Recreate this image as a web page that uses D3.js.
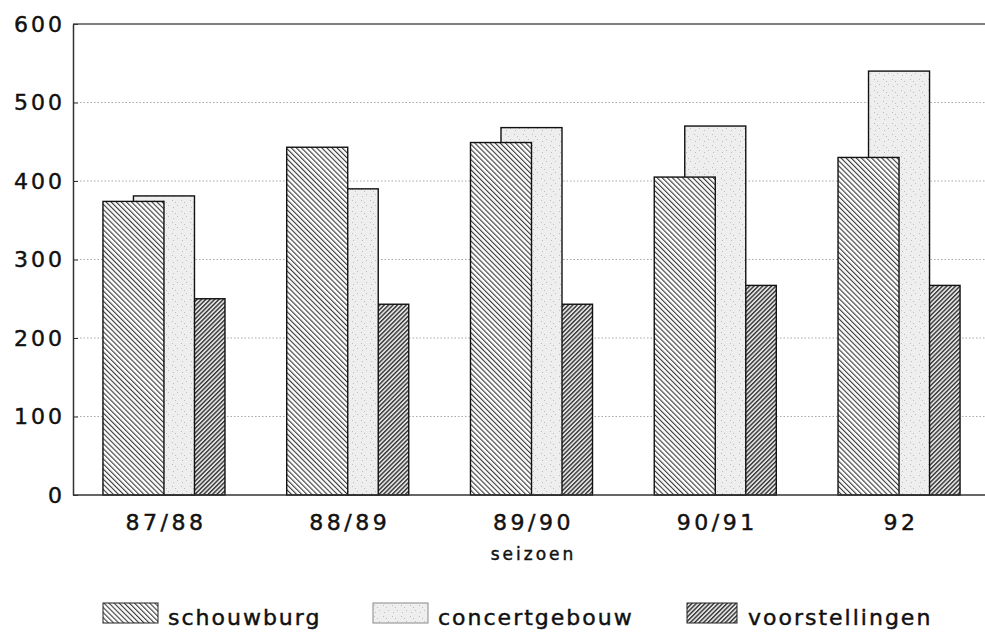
<!DOCTYPE html>
<html>
<head>
<meta charset="utf-8">
<script src="https://cdn.jsdelivr.net/npm/d3@7"></script>
<style>
body { margin: 0; background: #fff; }
text { font-family: "DejaVu Sans", sans-serif; fill: #111; stroke: #111; stroke-width: 0.45px; }
</style>
</head>
<body>
<div id="chart"></div>
<script>

const seasons = ['87/88', '88/89', '89/90', '90/91', '92'];
const schouwburg = [374, 443, 449, 405, 430];
const concertgebouw = [381, 390, 468, 470, 540];
const voorstellingen = [250, 243, 243, 267, 267];
const yTicks = [0, 100, 200, 300, 400, 500, 600];
const seriesNames = ['schouwburg', 'concertgebouw', 'voorstellingen'];

const width = 985, height = 632;
const plotLeft = 73, plotTop = 24, plotBottom = 495;

const svg = d3.select('#chart')
                .append('svg')
                .attr('width', width)
                .attr('height', height);

const defs = svg.append('defs');

// hatch for schouwburg: "\\\\"
let p1 = defs.append('pattern')
            .attr('id', 'pat-schouw')
            .attr('patternUnits', 'userSpaceOnUse')
            .attr('width', 3.6).attr('height', 10)
            .attr('patternTransform', 'rotate(-45)');
p1.append('rect').attr('width', 3.6).attr('height', 10).style('fill', '#fff');
p1.append('line').attr('x1', 0.6).attr('x2', 0.6).attr('y1', 0).attr('y2', 10)
            .style('stroke', '#222').style('stroke-width', 1);

// stipple for concertgebouw
let p2 = defs.append('pattern')
            .attr('id', 'pat-concert')
            .attr('patternUnits', 'userSpaceOnUse')
            .attr('width', 9).attr('height', 11);
p2.append('rect').attr('width', 9).attr('height', 11).style('fill', '#eeeeee');
[[1, 2], [6, 7], [4, 4], [2, 9]].forEach(d => {
    p2.append('rect').attr('x', d[0]).attr('y', d[1]).attr('width', 1).attr('height', 1)
        .style('fill', '#bdbdbd');
});

// hatch for voorstellingen: "////"
let p3 = defs.append('pattern')
            .attr('id', 'pat-voorst')
            .attr('patternUnits', 'userSpaceOnUse')
            .attr('width', 3.1).attr('height', 10)
            .attr('patternTransform', 'rotate(45)');
p3.append('rect').attr('width', 3.1).attr('height', 10).style('fill', '#e2e2e2');
p3.append('line').attr('x1', 0.7).attr('x2', 0.7).attr('y1', 0).attr('y2', 10)
            .style('stroke', '#1a1a1a').style('stroke-width', 1.2);

const fills = ['url(#pat-schouw)', 'url(#pat-concert)', 'url(#pat-voorst)'];

let scaleX = d3.scaleBand()
                .domain(seasons)
                .range([plotLeft, 990])
                .paddingInner(0.336)
                .paddingOuter(0.163);

let scaleY = d3.scaleLinear()
                .domain([0, 600])
                .range([plotBottom, plotTop]);

// grid lines
svg.selectAll('.grid')
    .data(yTicks.filter(d => d > 0 && d < 600))
    .enter()
    .append('line')
    .attr('class', 'grid')
    .attr('x1', plotLeft).attr('x2', width)
    .attr('y1', d => scaleY(d)).attr('y2', d => scaleY(d))
    .style('stroke', '#a8a8a8')
    .style('stroke-width', 1)
    .style('stroke-dasharray', '1.5,2');

// bars, back to front
const barW = scaleX.bandwidth() / 2;
const series = [schouwburg, concertgebouw, voorstellingen];

[2, 1, 0].forEach(k => {
    svg.append('g')
        .selectAll('rect')
        .data(series[k])
        .enter()
        .append('rect')
        .attr('x', (d, i) => scaleX(seasons[i]) + k * barW / 2)
        .attr('y', d => scaleY(d))
        .attr('width', barW)
        .attr('height', d => scaleY(0) - scaleY(d))
        .style('fill', fills[k])
        .style('stroke', '#111')
        .style('stroke-width', 1.4);
});

// frame
svg.append('line')
    .attr('x1', plotLeft).attr('x2', width)
    .attr('y1', scaleY(600)).attr('y2', scaleY(600))
    .style('stroke', '#555').style('stroke-width', 1.6);

svg.append('line')
    .attr('x1', plotLeft).attr('x2', width)
    .attr('y1', scaleY(0)).attr('y2', scaleY(0))
    .style('stroke', '#333').style('stroke-width', 1.5);

let yAxis = d3.axisLeft(scaleY)
                .tickValues(yTicks)
                .tickSizeInner(-5)
                .tickSizeOuter(0)
                .tickPadding(14)
                .tickFormat(d3.format('d'));

let yAxisGroup = svg.append('g')
                .attr('transform', 'translate(' + plotLeft + ',0)')
                .call(yAxis);

yAxisGroup.select('.domain').style('stroke', '#333').style('stroke-width', 1.5);
yAxisGroup.selectAll('.tick line').style('stroke', '#333');
yAxisGroup.selectAll('.tick text')
    .attr('x', -8)
    .style('font-family', '"DejaVu Sans", sans-serif')
    .style('font-size', '22px')
    .style('letter-spacing', '3px')
    .style('fill', '#111');

// season labels
svg.selectAll('.xlab')
    .data(seasons)
    .enter()
    .append('text')
    .attr('class', 'xlab')
    .attr('x', d => scaleX(d) + scaleX.bandwidth() / 2 + 2)
    .attr('y', 530)
    .style('text-anchor', 'middle')
    .style('font-size', '22px')
    .style('letter-spacing', '3.5px')
    .text(d => d);

svg.append('text')
    .attr('x', scaleX('89/90') + scaleX.bandwidth() / 2 + 2)
    .attr('y', 560)
    .style('text-anchor', 'middle')
    .style('font-size', '17px')
    .style('letter-spacing', '3px')
    .text('seizoen');

// legend
const legendX = [103, 373, 687];
let legend = svg.selectAll('.legend')
                .data(seriesNames)
                .enter()
                .append('g')
                .attr('class', 'legend')
                .attr('transform', (d, i) => 'translate(' + legendX[i] + ',603)');

legend.append('rect')
    .attr('width', (d, i) => i == 2 ? 50 : 55)
    .attr('height', 20)
    .style('fill', (d, i) => fills[i])
    .style('stroke', (d, i) => i == 1 ? '#888' : '#222')
    .style('stroke-width', 1);

legend.append('text')
    .attr('x', (d, i) => i == 2 ? 61 : 65)
    .attr('y', 22)
    .style('font-size', '22px')
    .style('letter-spacing', '2px')
    .text(d => d);

</script>
</body>
</html>
